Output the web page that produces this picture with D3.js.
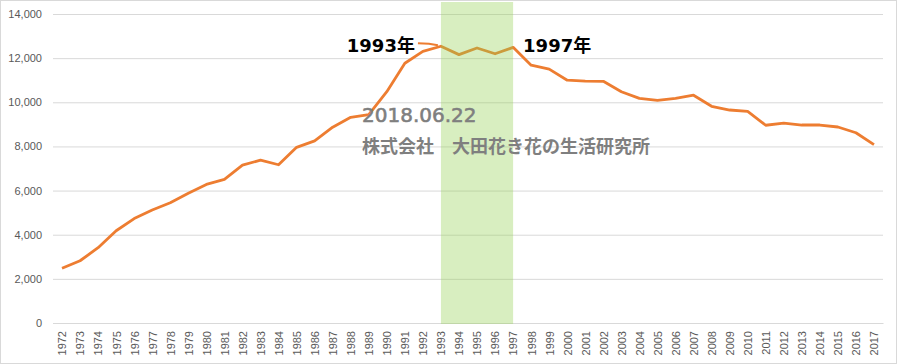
<!DOCTYPE html>
<html>
<head>
<meta charset="utf-8">
<script src="https://cdn.jsdelivr.net/npm/d3@7"></script>
<style>
  body { margin: 0; background: #fff; }
  .axis text { font-family: 'Liberation Sans', Arial, sans-serif; font-size: 11px; fill: #595959; }
</style>
</head>
<body>
<div id="chart"></div>
<script>
const years = d3.range(1972, 2018).map(String);
const values = [
  2480, 2820, 3410, 4180, 4730, 5120, 5450, 5880, 6280, 6510,
  7150, 7380, 7170, 7960, 8250, 8870, 9320, 9440, 10480, 11770,
  12310, 12540, 12160, 12460, 12200, 12490, 11680, 11500, 11000, 10960,
  10950, 10480, 10180, 10090, 10180, 10320, 9820, 9650, 9590, 8960,
  9060, 8970, 8970, 8880, 8620, 8080,
];
const yTicks = [0, 2000, 4000, 6000, 8000, 10000, 12000, 14000];
const highlight = ['1993', '1997'];
const stamp = '2018.06.22';
const credit = '株式会社　大田花き花の生活研究所';

const dimensions = {
  width: 897,
  height: 364,
  margin: { top: 14, bottom: 41, left: 53, right: 14 },
};
const plotBottom = dimensions.height - dimensions.margin.bottom;
const plotRight = dimensions.width - dimensions.margin.right;

const svg = d3.select('#chart').append('svg').attr('width', dimensions.width).attr('height', dimensions.height);

svg.append('rect')
  .attr('x', 0.5).attr('y', 0.5)
  .attr('width', dimensions.width - 1).attr('height', dimensions.height - 1)
  .attr('fill', '#fff').attr('stroke', '#d9d9d9');

const xScale = d3.scalePoint().domain(years).range([dimensions.margin.left, plotRight]).padding(0.5);
const yScale = d3.scaleLinear().domain([0, 14000]).range([plotBottom, dimensions.margin.top]);

// gridlines + y labels
const yAxis = d3.axisLeft(yScale).tickValues(yTicks).tickFormat(d3.format(',')).tickSize(0).tickPadding(11);
const yAxisGroup = svg.append('g').classed('axis', true)
  .attr('transform', `translate(${dimensions.margin.left},0)`)
  .call(yAxis);
yAxisGroup.select('.domain').remove();
yAxisGroup.selectAll('.tick line')
  .attr('x2', plotRight - dimensions.margin.left)
  .attr('stroke', '#d9d9d9');

// x labels
const xAxis = d3.axisBottom(xScale).tickSize(0).tickPadding(0);
const xAxisGroup = svg.append('g').classed('axis', true)
  .attr('transform', `translate(0,${plotBottom})`)
  .call(xAxis);
xAxisGroup.select('.domain').attr('stroke', '#d9d9d9');
xAxisGroup.selectAll('.tick text')
  .attr('transform', 'rotate(-90)')
  .attr('x', -8).attr('y', 0).attr('dy', '0.35em')
  .style('text-anchor', 'end');

// line
const line = d3.line()
  .x((d, i) => xScale(years[i]))
  .y((d) => yScale(d));
svg.append('path')
  .datum(values)
  .attr('d', line)
  .attr('fill', 'none')
  .attr('stroke', '#ED7D31')
  .attr('stroke-width', 2.8)
  .attr('stroke-linejoin', 'round');

// leader for 1993 label
const p93 = [xScale('1993'), yScale(values[years.indexOf('1993')])];
svg.append('path')
  .attr('d', `M${p93[0] - 23},${p93[1] - 3}L${p93[0] - 12},${p93[1] - 2.5}L${p93[0] - 3},${p93[1] - 1}`)
  .attr('fill', 'none')
  .attr('stroke', '#ED7D31')
  .attr('stroke-width', 2);

// highlight band
svg.append('rect')
  .attr('x', xScale(highlight[0]))
  .attr('y', 2)
  .attr('width', xScale(highlight[1]) - xScale(highlight[0]))
  .attr('height', plotBottom + 1 - 2)
  .attr('fill', 'rgb(146,208,80)')
  .attr('fill-opacity', 0.36);

// annotations
const labelFont = "'DejaVu Sans', 'Noto Sans CJK JP', sans-serif";
svg.append('text')
  .attr('x', p93[0] - 26).attr('y', 52)
  .attr('text-anchor', 'end')
  .style('font-family', labelFont)
  .style('font-weight', 'bold').style('font-size', '18px')
  .attr('fill', '#000')
  .text(highlight[0] + '年');

svg.append('text')
  .attr('x', xScale(highlight[1]) + 10).attr('y', 52)
  .style('font-family', labelFont)
  .style('font-weight', 'bold').style('font-size', '18px')
  .attr('fill', '#000')
  .text(highlight[1] + '年');

svg.append('text')
  .attr('x', 362).attr('y', 122)
  .style('font-family', "'DejaVu Sans', sans-serif")
  .style('font-size', '20px')
  .attr('fill', '#7f7f7f')
  .attr('stroke', '#7f7f7f')
  .attr('stroke-width', 0.6)
  .text(stamp);

svg.append('text')
  .attr('x', 362).attr('y', 153)
  .style('font-family', "'Noto Sans CJK JP', sans-serif")
  .style('font-weight', 'bold').style('font-size', '18px')
  .attr('fill', '#7f7f7f')
  .text(credit);
</script>
</body>
</html>
